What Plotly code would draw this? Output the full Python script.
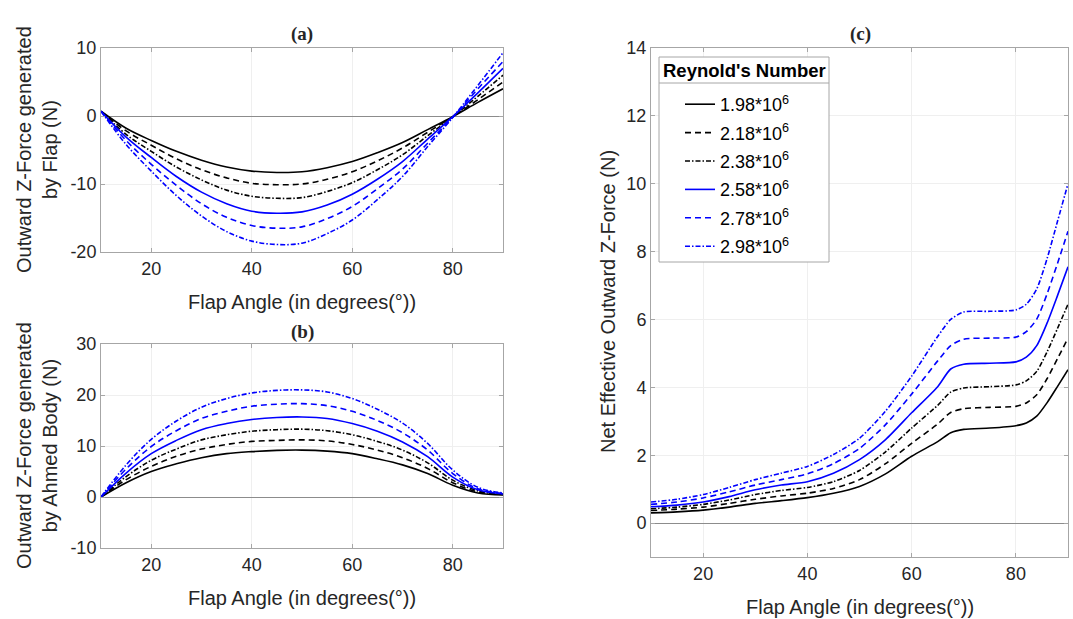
import plotly.graph_objects as go

angle = [10, 15, 20, 25, 30, 35, 40, 45, 50, 55, 60, 65, 70, 75, 80, 85, 90]
angle_net = [10, 15, 20, 25, 30, 35, 40, 45, 50, 55, 60, 65, 67.5, 70, 75, 80, 82, 84, 86, 88, 90]
reynolds = ["1.98*10<sup>6</sup>", "2.18*10<sup>6</sup>", "2.38*10<sup>6</sup>",
            "2.58*10<sup>6</sup>", "2.78*10<sup>6</sup>", "2.98*10<sup>6</sup>"]
legend_title = "Reynold's Number"

# (a) Outward Z-force generated by flap (N)
flap_re198 = [0.7, -1.8, -3.6, -5.2, -6.5, -7.5, -8.1, -8.3, -8.2, -7.6, -6.7, -5.4, -3.9, -2.0, -0.1, 2.0, 4.0]
flap_re218 = [0.7, -2.2, -4.3, -6.3, -7.9, -9.1, -9.9, -10.1, -10.0, -9.3, -8.2, -6.6, -4.7, -2.4, -0.1, 2.4, 5.0]
flap_re238 = [0.7, -2.7, -5.2, -7.5, -9.4, -10.9, -11.8, -12.1, -12.0, -11.1, -9.8, -7.9, -5.7, -2.9, -0.1, 2.9, 6.0]
flap_re258 = [0.7, -3.1, -6.1, -8.9, -11.2, -12.9, -14.0, -14.3, -14.1, -13.1, -11.5, -9.3, -6.7, -3.4, -0.1, 3.4, 7.0]
flap_re278 = [0.7, -3.6, -7.1, -10.2, -12.9, -14.9, -16.1, -16.5, -16.3, -15.1, -13.3, -10.7, -7.8, -4.0, -0.2, 4.0, 8.0]
flap_re298 = [0.7, -4.2, -8.1, -11.7, -14.7, -17.0, -18.4, -18.9, -18.7, -17.3, -15.3, -12.3, -8.9, -4.5, -0.2, 4.5, 9.3]

# (b) Outward Z-force generated by Ahmed body (N)
body_re198 = [0, 2.8, 5.0, 6.5, 7.7, 8.5, 8.9, 9.15, 9.2, 9.0, 8.5, 7.5, 6.3, 4.6, 2.3, 0.8, 0.4]
body_re218 = [0, 3.4, 6.0, 8.0, 9.4, 10.3, 10.9, 11.1, 11.2, 11.0, 10.3, 9.2, 7.7, 5.6, 2.8, 1.0, 0.5]
body_re238 = [0, 4.0, 7.2, 9.4, 11.2, 12.2, 12.9, 13.2, 13.3, 13.0, 12.2, 10.9, 9.2, 6.7, 3.3, 1.2, 0.55]
body_re258 = [0, 4.7, 8.5, 11.1, 13.2, 14.4, 15.2, 15.6, 15.7, 15.4, 14.4, 12.9, 10.8, 7.9, 3.9, 1.4, 0.6]
body_re278 = [0, 5.5, 9.9, 13.0, 15.4, 16.8, 17.8, 18.2, 18.3, 17.9, 16.8, 15.0, 12.6, 9.2, 4.6, 1.6, 0.7]
body_re298 = [0, 6.3, 11.3, 14.9, 17.6, 19.3, 20.4, 20.9, 21.0, 20.6, 19.3, 17.2, 14.5, 10.5, 5.3, 1.9, 0.8]

# (c) Net effective outward Z-force (N)
net_re198 = [0.30, 0.33, 0.38, 0.47, 0.58, 0.66, 0.75, 0.88, 1.08, 1.45, 1.97, 2.40, 2.66, 2.76, 2.80, 2.87, 2.95, 3.15, 3.55, 4.03, 4.52]
net_re218 = [0.37, 0.41, 0.47, 0.58, 0.70, 0.80, 0.88, 1.02, 1.28, 1.75, 2.35, 2.92, 3.26, 3.37, 3.41, 3.44, 3.54, 3.78, 4.26, 4.85, 5.45]
net_re238 = [0.42, 0.47, 0.55, 0.68, 0.84, 0.96, 1.05, 1.22, 1.55, 2.10, 2.80, 3.47, 3.86, 3.98, 4.02, 4.07, 4.19, 4.47, 5.05, 5.74, 6.45]
net_re258 = [0.48, 0.53, 0.62, 0.78, 0.98, 1.12, 1.22, 1.47, 1.87, 2.46, 3.25, 4.02, 4.54, 4.68, 4.71, 4.75, 4.89, 5.23, 5.90, 6.71, 7.55]
net_re278 = [0.55, 0.62, 0.74, 0.92, 1.12, 1.28, 1.45, 1.75, 2.20, 2.90, 3.80, 4.78, 5.23, 5.42, 5.45, 5.48, 5.64, 6.01, 6.76, 7.66, 8.60]
net_re298 = [0.62, 0.70, 0.84, 1.05, 1.28, 1.47, 1.67, 2.02, 2.50, 3.30, 4.33, 5.50, 6.00, 6.22, 6.24, 6.28, 6.45, 6.90, 7.80, 8.90, 10.0]

flap = [flap_re198, flap_re218, flap_re238, flap_re258, flap_re278, flap_re298]
body = [body_re198, body_re218, body_re238, body_re258, body_re278, body_re298]
net = [net_re198, net_re218, net_re238, net_re258, net_re278, net_re298]

colors = ["black", "black", "black", "#0000ff", "#0000ff", "#0000ff"]
dashes = ["solid", "6px,4px", "5px,2px,1.5px,2px", "solid", "6px,4px", "5px,2px,1.5px,2px"]

fig = go.Figure()
panels = [(angle, flap, "x", "y", False, 1.0), (angle, body, "x2", "y2", False, 1.0),
          (angle_net, net, "x3", "y3", True, 0.7)]
for xs, data, xa, ya, show, sm in panels:
    for i in range(6):
        fig.add_trace(go.Scatter(
            x=xs, y=data[i], xaxis=xa, yaxis=ya, mode="lines",
            line=dict(color=colors[i], dash=dashes[i], width=1.6, shape="spline", smoothing=sm),
            name=reynolds[i], showlegend=show, legendgroup=str(i), hoverinfo="skip",
        ))

W, H = 1073, 619
def xd(a, b):
    return [a / W, b / W]
def yd(top, bottom):
    return [1 - bottom / H, 1 - top / H]
def px(x):
    return x / W
def py(y):
    return 1 - y / H

axcol = "#a6a6a6"
tickfont = dict(family="Liberation Sans, Arial, sans-serif", size=18, color="#262626")
common_x = dict(range=[10, 90], tickvals=[20, 40, 60, 80], showgrid=True, gridcolor="#efefef",
                showline=True, linecolor=axcol, linewidth=1, mirror="ticks", ticks="inside",
                ticklen=4, tickcolor=axcol, tickfont=tickfont, zeroline=False, automargin=False)
common_y = dict(showgrid=True, gridcolor="#efefef", showline=True, linecolor=axcol, linewidth=1,
                mirror="ticks", ticks="inside", ticklen=4, tickcolor=axcol, tickfont=tickfont,
                zeroline=True, zerolinecolor="#8c8c8c", zerolinewidth=1, automargin=False)

ya_ticks = [-20, -10, 0, 10]
yb_ticks = [-10, 0, 10, 20, 30]
yc_ticks = [0, 2, 4, 6, 8, 10, 12, 14]

fig.update_layout(
    width=W, height=H, margin=dict(l=0, r=0, t=0, b=0, pad=0), autosize=False,
    paper_bgcolor="white", plot_bgcolor="white",
    xaxis=dict(domain=xd(101, 503), anchor="y", **common_x),
    yaxis=dict(domain=yd(48, 252), anchor="x", range=[-20, 10], tickvals=ya_ticks,
               ticktext=[str(v) for v in ya_ticks], **common_y),
    xaxis2=dict(domain=xd(101, 503), anchor="y2", **common_x),
    yaxis2=dict(domain=yd(344, 548), anchor="x2", range=[-10, 30], tickvals=yb_ticks,
                ticktext=[str(v) for v in yb_ticks], **common_y),
    xaxis3=dict(domain=xd(651, 1068), anchor="y3", **common_x),
    yaxis3=dict(domain=yd(48, 557), anchor="x3", range=[-1, 14], tickvals=yc_ticks,
                ticktext=[str(v) for v in yc_ticks], **common_y),
    showlegend=True,
    legend=dict(
        x=px(680), y=py(86), xanchor="left", yanchor="top",
        bgcolor="rgba(0,0,0,0)", borderwidth=0,
        font=dict(family="Liberation Sans, Arial, sans-serif", size=18, color="black"),
        traceorder="grouped", tracegroupgap=2, itemwidth=30,
    ),
)

# legend box (white background, border, separator under title)
fig.add_shape(type="rect", xref="paper", yref="paper", x0=px(659), x1=px(829), y0=py(262), y1=py(57),
              fillcolor="white", line=dict(color=axcol, width=1), layer="above")
fig.add_shape(type="line", xref="paper", yref="paper", x0=px(659), x1=px(829), y0=py(83), y1=py(83),
              line=dict(color=axcol, width=1), layer="above")

afont = dict(family="Liberation Sans, Arial, sans-serif", size=20, color="#262626")
tfont = dict(family="Liberation Serif, Times New Roman, serif", size=19, color="#262626")
ann = [
    dict(text="<b>(a)</b>", x=302, y=34, font=tfont),
    dict(text="<b>(b)</b>", x=302, y=332, font=tfont),
    dict(text="<b>(c)</b>", x=860, y=34, font=tfont),
    dict(text="Flap Angle (in degrees(°))", x=302, y=302, font=afont),
    dict(text="Flap Angle (in degrees(°))", x=302, y=598, font=afont),
    dict(text="Flap Angle (in degrees(°))", x=860, y=607, font=afont),
    dict(text="Outward Z-Force generated<br>by Flap (N)", x=37, y=150, font=afont, textangle=-90),
    dict(text="Outward Z-Force generated<br>by Ahmed Body (N)", x=37, y=446, font=afont, textangle=-90),
    dict(text="Net Effective Outward Z-Force (N)", x=608, y=302, font=afont, textangle=-90),
    dict(text="<b>" + legend_title + "</b>", x=744, y=70,
         font=dict(family="Liberation Sans, Arial, sans-serif", size=18.5, color="black")),
]
for a in ann:
    fig.add_annotation(text=a["text"], x=px(a["x"]), y=py(a["y"]), xref="paper", yref="paper",
                       showarrow=False, xanchor="center", yanchor="middle", font=a["font"],
                       textangle=a.get("textangle", 0))

fig.write_html("out.html", config={"displayModeBar": False},
               post_script="document.body.style.margin='0';document.body.style.overflow='hidden';")
